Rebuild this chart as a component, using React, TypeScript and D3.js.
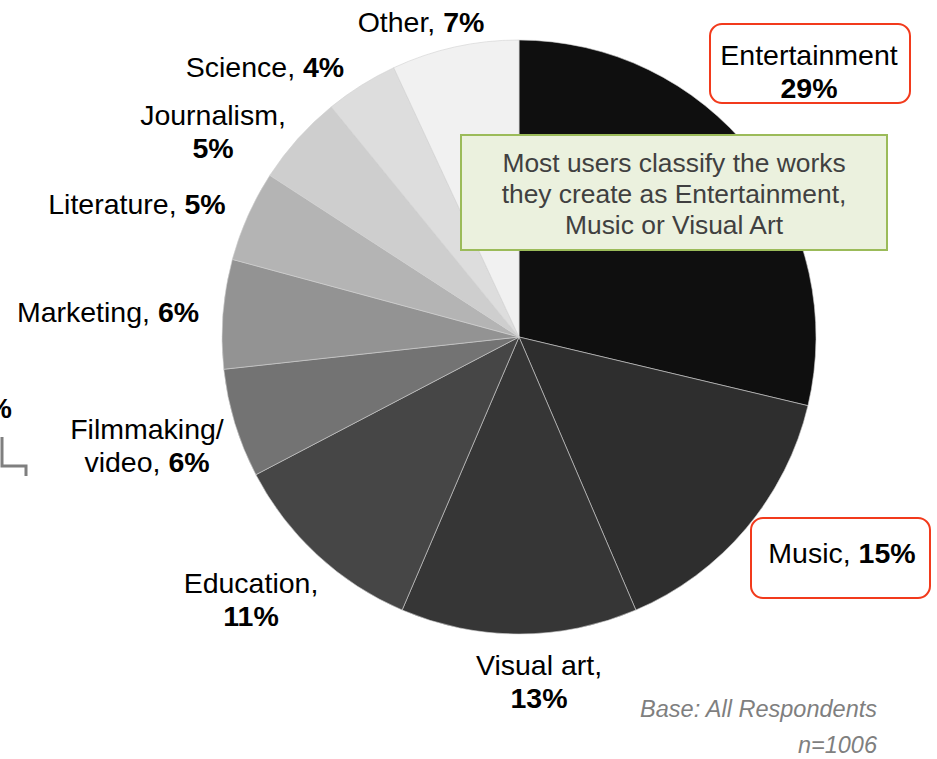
import React from 'react';
import * as d3 from 'd3';

// Share of users by type of work created (%)
const categories = [
  'Entertainment',
  'Music',
  'Visual art',
  'Education',
  'Filmmaking/video',
  'Marketing',
  'Literature',
  'Journalism',
  'Science',
  'Other',
];
const shares = [29, 15, 13, 11, 6, 6, 5, 5, 4, 7];
const sliceColors = [
  '#0f0f0f',
  '#2e2e2e',
  '#363636',
  '#464646',
  '#737373',
  '#939393',
  '#b4b4b4',
  '#cecece',
  '#dddddd',
  '#f1f1f1',
];

// label text lines: [regular part, bold part] per line
const labelLines: [string, string][][] = [
  [['Entertainment', ''], ['', '29%']],
  [['Music, ', '15%']],
  [['Visual art,', ''], ['', '13%']],
  [['Education,', ''], ['', '11%']],
  [['Filmmaking/', ''], ['video, ', '6%']],
  [['Marketing, ', '6%']],
  [['Literature, ', '5%']],
  [['Journalism,', ''], ['', '5%']],
  [['Science, ', '4%']],
  [['Other, ', '7%']],
];

const noteLines = [
  'Most users classify the works',
  'they create as Entertainment,',
  'Music or Visual Art',
];

const WIDTH = 937;
const HEIGHT = 759;
const cx = 519;
const cy = 337;
const radius = 297;

// label placement (center x, first baseline y)
const labelPos: [number, number][] = [
  [809, 65],
  [842, 563],
  [539, 675],
  [251, 593],
  [147, 439],
  [108, 322],
  [137, 214],
  [213, 125],
  [265, 77],
  [421, 32],
];

const FONT = 'Arial, "Liberation Sans", Helvetica, sans-serif';

export default function App() {
  const pie = d3.pie<number>().value(d => d).sort(null);
  const arcs = pie(shares);
  const arc = d3.arc<d3.PieArcDatum<number>>().innerRadius(0).outerRadius(radius);

  return (
    <svg
      width={WIDTH}
      height={HEIGHT}
      viewBox={`0 0 ${WIDTH} ${HEIGHT}`}
      style={{ position: 'absolute', left: 0, top: 0, background: '#fff' }}
      fontFamily={FONT}
    >
      {/* leftover from neighbouring chart, cut at the edge as in the original */}
      <text x={12} y={418} fontSize={28} fontWeight="bold" textAnchor="end">%</text>
      <path d="M2,437 V466 H26 V476" fill="none" stroke="#7f7f7f" strokeWidth={3} />

      <g transform={`translate(${cx},${cy})`}>
        {arcs.map((a, i) => (
          <path
            key={categories[i]}
            d={arc(a) || ''}
            fill={sliceColors[i]}
            stroke="#d0d0d0"
            strokeWidth={0.6}
          />
        ))}
      </g>

      {/* red highlight boxes */}
      <rect x={710} y={24} width={200} height={79} rx={12} fill="#fff" stroke="#f23a1c" strokeWidth={2} />
      <rect x={751} y={518} width={179} height={80} rx={12} fill="#fff" stroke="#f23a1c" strokeWidth={2} />

      {/* slice labels */}
      {labelLines.map((lines, i) => {
        const [lx, ly] = labelPos[i];
        return (
          <g key={categories[i]}>
            {lines.map((ln, j) => (
              <text
                key={j}
                x={lx}
                y={ly + j * 33}
                fontSize={28.5}
                textAnchor="middle"
                fill="#000"
              >
                {ln[0] && <tspan>{ln[0]}</tspan>}
                {ln[1] && <tspan fontWeight="bold">{ln[1]}</tspan>}
              </text>
            ))}
          </g>
        );
      })}

      {/* note box */}
      <rect x={461} y={135} width={426} height={115} fill="#ebf1de" stroke="#9bbb59" strokeWidth={2} />
      {noteLines.map((t, i) => (
        <text key={t} x={674} y={172 + i * 31} fontSize={26.4} textAnchor="middle" fill="#404040">
          {t}
        </text>
      ))}

      {/* base */}
      <text x={877} y={717} fontSize={23.5} fontStyle="italic" textAnchor="end" fill="#7f7f7f">
        Base: All Respondents
      </text>
      <text x={877} y={753} fontSize={23.5} fontStyle="italic" textAnchor="end" fill="#7f7f7f">
        n=1006
      </text>
    </svg>
  );
}
